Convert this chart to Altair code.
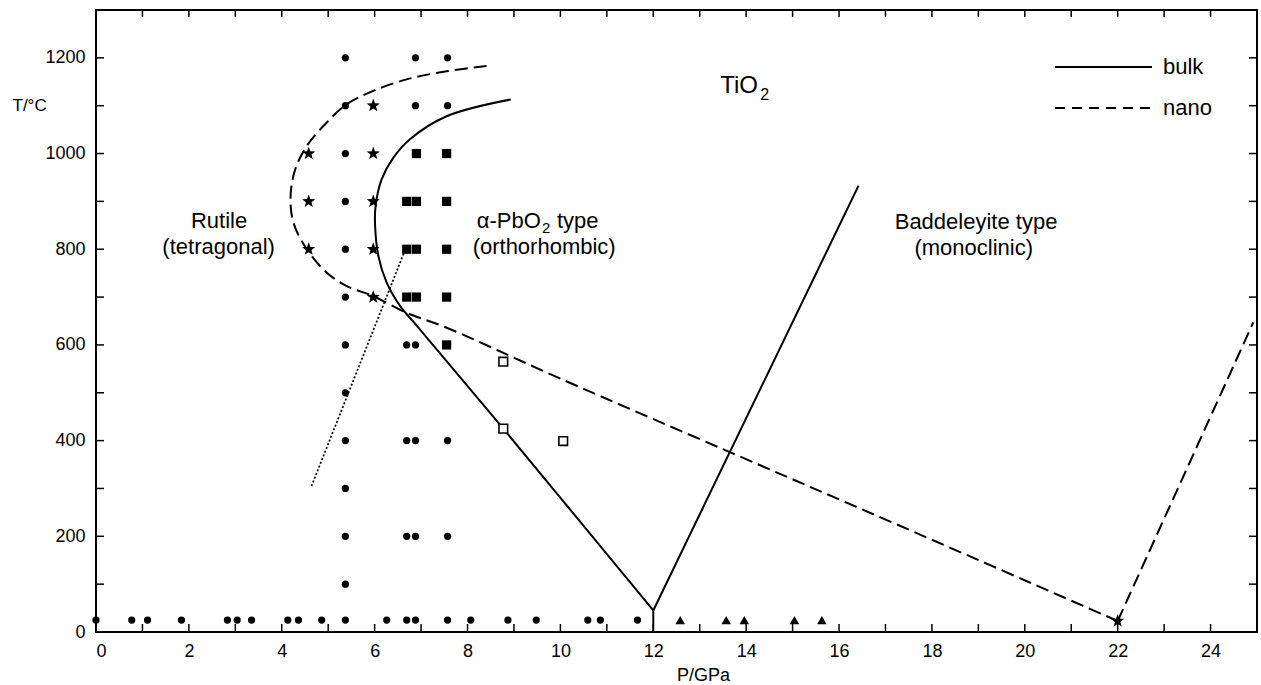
import altair as alt
import pandas as pd

FONT = "Liberation Sans"
W, H = 1161, 622

# ---------------- axes ----------------
p_label_values = [0, 2, 4, 6, 8, 10, 12, 14, 16, 18, 20, 22, 24]
p_tick_values = [1, 2, 3, 4, 5, 6, 7, 8, 9, 10, 11, 12, 13, 14, 15, 16, 17, 18, 19, 20, 21, 22, 23, 24]
t_label_values = [0, 200, 400, 600, 800, 1000, 1200]
t_tick_values = [100, 200, 300, 400, 500, 600, 700, 800, 900, 1000, 1100, 1200]

# ---------------- experimental points ----------------
circle_P = [5.37, 5.37, 5.37, 5.37, 5.37, 5.37, 5.37, 5.37, 5.37, 5.37, 5.37, 5.37, 5.37,
            6.69, 6.69, 6.69, 6.69,
            6.88, 6.88, 6.88, 6.88, 6.88, 6.88,
            7.57, 7.57, 7.57, 7.57, 7.57,
            0.0, 0.77, 1.11, 1.84, 2.83, 3.04, 3.35, 4.13, 4.36, 4.86, 6.26,
            8.07, 8.87, 9.48, 10.59, 10.86, 11.66]
circle_T = [1200, 1100, 1000, 900, 800, 700, 600, 500, 400, 300, 200, 100, 25,
            600, 400, 200, 25,
            1200, 1100, 600, 400, 200, 25,
            1200, 1100, 400, 200, 25,
            25, 25, 25, 25, 25, 25, 25, 25, 25, 25, 25,
            25, 25, 25, 25, 25, 25]

square_P = [6.9, 7.55, 6.69, 6.9, 7.55, 6.69, 6.9, 7.55, 6.69, 6.9, 7.55, 7.55]
square_T = [1000, 1000, 900, 900, 900, 800, 800, 800, 700, 700, 700, 600]

star_P = [5.97, 4.58, 5.97, 4.58, 5.97, 4.58, 5.97, 5.97, 22.0]
star_T = [1100, 1000, 1000, 900, 900, 800, 800, 700, 23]

triangle_P = [12.58, 13.57, 13.96, 15.04, 15.63]
triangle_T = [25, 25, 25, 25, 25]

open_square_P = [8.77, 8.77, 10.06]
open_square_T = [565, 425, 399]

# ---------------- phase boundaries ----------------
bulk_curve_P = [8.93, 7.55, 6.76, 6.4, 6.15, 6.02, 6.01, 6.08, 6.26, 6.55, 6.91, 8.77, 12.0]
bulk_curve_T = [1113, 1078, 1030, 991, 946, 890, 849, 786, 730, 681, 640, 425, 45]
bulk_vertical_P = [12.0, 12.0]
bulk_vertical_T = [45, 0]
bulk_bad_P = [12.0, 16.42]
bulk_bad_T = [45, 933]

nano_curve_P = [8.41, 7.55, 6.69, 5.97, 5.4, 4.97, 4.54, 4.29, 4.19, 4.25, 4.54, 4.97, 5.4,
                5.97, 6.69, 7.55, 9.99, 13.67, 17.31, 22.0]
nano_curve_T = [1183, 1172, 1155, 1131, 1103, 1065, 1016, 967, 911, 856, 800, 751, 723,
                702, 667, 636, 530, 375, 222, 23]
nano_bad_P = [22.0, 24.92]
nano_bad_T = [23, 647]

dotted_P = [4.64, 6.63]
dotted_T = [305, 792]

# ---------------- annotations ----------------
region_labels = ["Rutile", "(tetragonal)", "(orthorhombic)", "Baddeleyite type", "(monoclinic)"]
region_P = [2.65, 2.64, 9.65, 18.95, 18.9]
region_T = [859, 804, 804, 857, 802]

STAR = ("M0,-1L0.247,-0.34L0.951,-0.309L0.399,0.13L0.588,0.809L0,0.42"
        "L-0.588,0.809L-0.399,0.13L-0.951,-0.309L-0.247,-0.34Z")


def seg(group, P, T):
    return pd.DataFrame({"group": group, "ord": list(range(len(P))), "P": P, "T": T})


xs = alt.Scale(domain=[0, 25], nice=False, zero=False)
ys = alt.Scale(domain=[0, 1300], nice=False, zero=False)

x_axis = alt.Axis(values=p_label_values, ticks=False, domain=False, grid=False, format="d",
                  labelFont=FONT, labelFontSize=18, labelColor="black", labelPadding=10,
                  title="P/GPa", titleFont=FONT, titleFontSize=18, titleFontWeight="normal",
                  titleColor="black", titleX=607, titleY=43, titleAlign="center",
                  titleBaseline="middle")
y_axis = alt.Axis(values=t_label_values, ticks=False, domain=False, grid=False, format="d",
                  labelFont=FONT, labelFontSize=18, labelColor="black", labelPadding=11,
                  title="T/°C", titleFont=FONT, titleFontSize=17, titleFontWeight="normal",
                  titleColor="black", titleAngle=0, titleX=-84, titleY=95,
                  titleAlign="left", titleBaseline="middle")

circles = alt.Chart(pd.DataFrame({"P": circle_P, "T": circle_T})).mark_point(
    shape="circle", filled=True, color="black", size=52, opacity=1
).encode(x=alt.X("P:Q", scale=xs, axis=x_axis), y=alt.Y("T:Q", scale=ys, axis=y_axis))

squares = alt.Chart(pd.DataFrame({"P": square_P, "T": square_T})).mark_point(
    shape="square", filled=True, color="black", size=85, opacity=1
).encode(x="P:Q", y="T:Q")

stars = alt.Chart(pd.DataFrame({"P": star_P, "T": star_T})).mark_point(
    shape=STAR, filled=True, color="black", size=190, opacity=1
).encode(x="P:Q", y="T:Q")

triangles = alt.Chart(pd.DataFrame({"P": triangle_P, "T": triangle_T})).mark_point(
    shape="triangle-up", filled=True, color="black", size=90, opacity=1
).encode(x="P:Q", y="T:Q")

open_squares = alt.Chart(pd.DataFrame({"P": open_square_P, "T": open_square_T})).mark_point(
    shape="square", filled=False, stroke="black", fill="white", fillOpacity=1,
    strokeWidth=1.6, size=75, opacity=1
).encode(x="P:Q", y="T:Q")

bulk_df = pd.concat([seg("a", bulk_curve_P, bulk_curve_T),
                     seg("b", bulk_vertical_P, bulk_vertical_T),
                     seg("c", bulk_bad_P, bulk_bad_T)], ignore_index=True)
bulk_lines = alt.Chart(bulk_df).mark_line(
    color="black", strokeWidth=2, interpolate="catmull-rom"
).encode(x="P:Q", y="T:Q", detail="group:N", order="ord:Q")

nano_df = pd.concat([seg("n1", nano_curve_P, nano_curve_T),
                     seg("n2", nano_bad_P, nano_bad_T)], ignore_index=True)
nano_lines = alt.Chart(nano_df).mark_line(
    color="black", strokeWidth=2, strokeDash=[13, 6], interpolate="catmull-rom"
).encode(x="P:Q", y="T:Q", detail="group:N", order="ord:Q")

dotted = alt.Chart(seg("d", dotted_P, dotted_T)).mark_line(
    color="black", strokeWidth=1.7, strokeDash=[2, 2]
).encode(x="P:Q", y="T:Q", order="ord:Q")

# inward ticks
t_df = pd.DataFrame({"T": t_tick_values})
p_df = pd.DataFrame({"P": p_tick_values})
left_ticks = alt.Chart(t_df).mark_rule(color="black", strokeWidth=1.5).encode(
    y="T:Q", x=alt.value(0), x2=alt.value(8))
right_ticks = alt.Chart(t_df).mark_rule(color="black", strokeWidth=1.5).encode(
    y="T:Q", x=alt.value(W - 8), x2=alt.value(W))
top_ticks = alt.Chart(p_df).mark_rule(color="black", strokeWidth=1.5).encode(
    x="P:Q", y=alt.value(0), y2=alt.value(7))
bottom_ticks = alt.Chart(p_df).mark_rule(color="black", strokeWidth=1.5).encode(
    x="P:Q", y=alt.value(H - 8), y2=alt.value(H))

# region labels
regions = alt.Chart(pd.DataFrame({"P": region_P, "T": region_T, "label": region_labels})).mark_text(
    font=FONT, fontSize=22, color="black", align="center", baseline="middle"
).encode(x="P:Q", y="T:Q", text="label:N")

one = pd.DataFrame({"P": [9.58], "T": [860]})
alpha1 = alt.Chart(one).mark_text(font=FONT, fontSize=22, color="black", align="right",
                                  baseline="middle").encode(x="P:Q", y="T:Q", text=alt.value("α-PbO"))
alpha2 = alt.Chart(one).mark_text(font=FONT, fontSize=15, color="black", align="left",
                                  baseline="middle", dx=1, dy=7).encode(x="P:Q", y="T:Q", text=alt.value("2"))
alpha3 = alt.Chart(one).mark_text(font=FONT, fontSize=22, color="black", align="left",
                                  baseline="middle", dx=16).encode(x="P:Q", y="T:Q", text=alt.value("type"))

tio = pd.DataFrame({"P": [13.44], "T": [1142]})
tio1 = alt.Chart(tio).mark_text(font=FONT, fontSize=24, color="black", align="left",
                                baseline="middle").encode(x="P:Q", y="T:Q", text=alt.value("TiO"))
tio2 = alt.Chart(tio).mark_text(font=FONT, fontSize=16, color="black", align="left",
                                baseline="middle", dx=40, dy=9).encode(x="P:Q", y="T:Q", text=alt.value("2"))

# legend (drawn by hand)
leg = pd.DataFrame({"k": [0]})
leg_bulk = alt.Chart(leg).mark_rule(color="black", strokeWidth=2).encode(
    x=alt.value(959), x2=alt.value(1056), y=alt.value(57))
leg_nano = alt.Chart(leg).mark_rule(color="black", strokeWidth=2, strokeDash=[10, 7]).encode(
    x=alt.value(959), x2=alt.value(1056), y=alt.value(98))
leg_bulk_t = alt.Chart(leg).mark_text(font=FONT, fontSize=22, color="black", align="left",
                                      baseline="middle").encode(
    x=alt.value(1067), y=alt.value(57), text=alt.value("bulk"))
leg_nano_t = alt.Chart(leg).mark_text(font=FONT, fontSize=22, color="black", align="left",
                                      baseline="middle").encode(
    x=alt.value(1067), y=alt.value(98), text=alt.value("nano"))

chart = alt.layer(
    circles, bulk_lines, nano_lines, dotted, squares, stars, triangles, open_squares,
    left_ticks, right_ticks, top_ticks, bottom_ticks,
    regions, alpha1, alpha2, alpha3, tio1, tio2,
    leg_bulk, leg_nano, leg_bulk_t, leg_nano_t
).properties(
    width=W, height=H,
    autosize=alt.AutoSizeParams(type="none"),
    padding={"left": 96, "top": 10, "right": 4, "bottom": 53},
    background="white"
).configure_view(stroke="black", strokeWidth=2)

chart.save("out.html", embed_options={"renderer": "svg", "actions": False})
